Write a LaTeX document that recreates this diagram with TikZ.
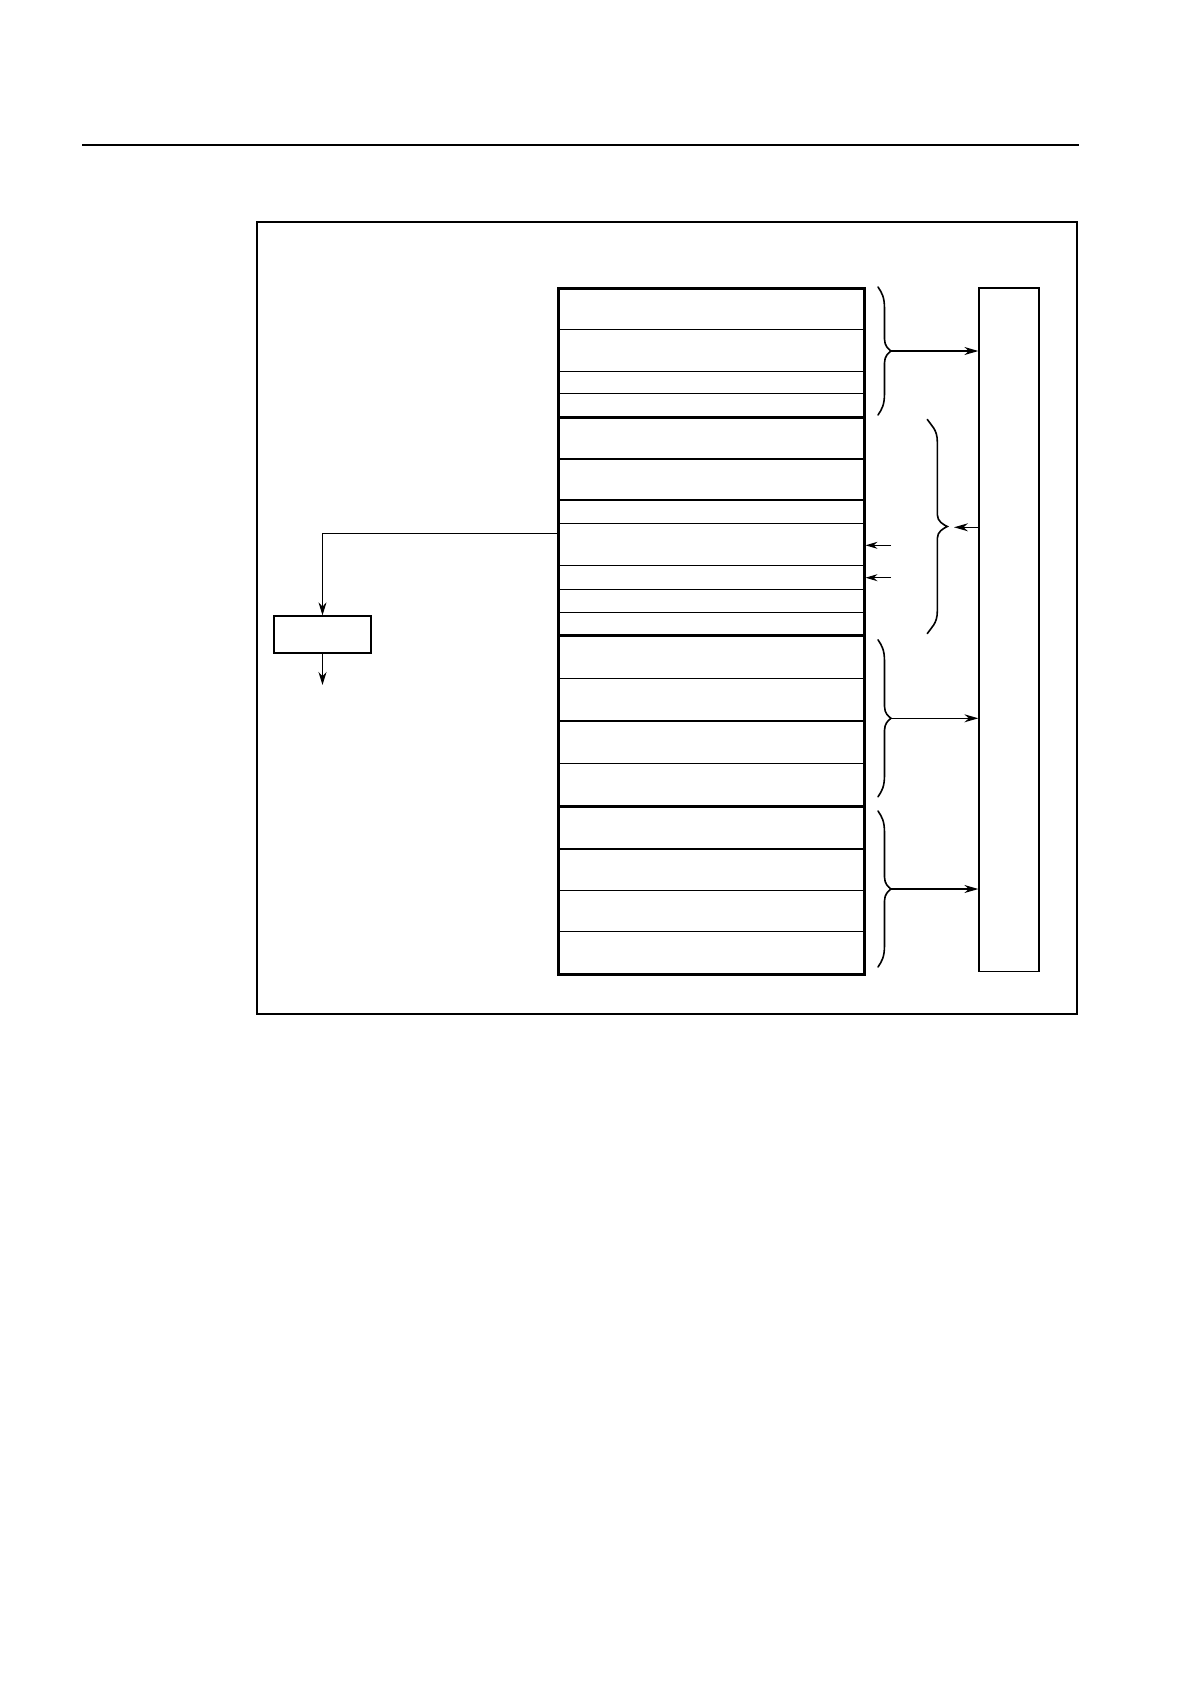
\documentclass[tikz,border=0pt]{standalone}
\usetikzlibrary{arrows.meta}
\tikzset{
  rowline/.style={line width=1.1pt},
  midline/.style={line width=1.6pt},
  heavyline/.style={line width=3pt},
  framestyle/.style={line width=1.8pt},
  boxstyle/.style={draw, line width=1.3pt, minimum width=0pt, minimum height=0pt, inner sep=0pt},
  bracestyle/.style={line width=1.6pt, line cap=round},
  arr/.style={line width=1.2pt, -{Stealth[length=14pt,width=8pt]}},
  connarr/.style={line width=1.2pt, -{Stealth[length=13pt,width=8pt]}},
  smallarr/.style={line width=1.1pt, -{Stealth[length=12pt,width=7pt]}},
  pics/rbrace/.style 2 args={code={
    \draw[bracestyle] (-#2,-#1) .. controls ({-#2+4},{-#1+6}) and ({-#2/2},{-#1+10}) .. ({-#2/2},{-#1+22})
      -- ({-#2/2},-12) .. controls ({-#2/2},-5) and ({-#2/5},-2) .. (0,0)
      .. controls ({-#2/5},2) and ({-#2/2},5) .. ({-#2/2},12)
      -- ({-#2/2},{#1-22}) .. controls ({-#2/2},{#1-10}) and ({-#2+4},{#1-6}) .. (-#2,#1);
  }}
}
\begin{document}
\begin{tikzpicture}[x=1pt,y=-1pt]
  \useasboundingbox (0,0) rectangle (1190,1684);
  % header rule
  \draw[framestyle] (82,145.3) -- (1079,145.3);
  % outer frame
  \draw[framestyle] (256.7,222) rectangle (1077,1014);
  % main block rows
  \foreach \yy in {329.3,371.3,393.3,500,523.3,565.3,589.3,612.3,678.3,721,763.3,890.3,931.3}
    \draw[rowline] (558,\yy) -- (864,\yy);
  \foreach \yy in {459,849}
    \draw[midline] (558,\yy) -- (864,\yy);
  \foreach \yy in {417.7,635.7,806}
    \draw[heavyline] (558,\yy) -- (864,\yy);
  \node[boxstyle, line width=3pt, minimum width=306pt, minimum height=686.5pt] (mem) at (711,631.25) {};
  % tall box on the right
  \node[boxstyle, minimum width=60pt, minimum height=683.5pt] (bus) at (1009,629.75) {};
  % small box on the left
  \node[boxstyle, minimum width=97pt, minimum height=37pt] (blk) at (322.5,634.5) {};
  % braces
  \pic at (891,351) {rbrace={64}{13}};
  \pic at (947.3,526.5) {rbrace={107}{20}};
  \pic at (891,718.3) {rbrace={78.5}{13}};
  \pic at (891,889) {rbrace={78}{13}};
  \coordinate (t1) at (891,351);
  \coordinate (t2) at (954,527.3);
  \coordinate (t3) at (891,718.3);
  \coordinate (t4) at (891,889);
  % brace arrows
  \draw[arr] (t1) -- (t1 -| bus.west);
  \draw[arr] (t2 -| bus.west) -- (t2);
  \draw[arr] (t3) -- (t3 -| bus.west);
  \draw[arr] (t4) -- (t4 -| bus.west);
  % small arrows into block
  \coordinate (s1) at (891,545.3);
  \coordinate (s2) at (891,577.7);
  \draw[smallarr] (s1) -- (s1 -| mem.east);
  \draw[smallarr] (s2) -- (s2 -| mem.east);
  % connector from block to small box
  \coordinate (c0) at (558,533.3);
  \draw[connarr] (c0) -- (c0 -| blk.north) -- (blk.north);
  \coordinate (outend) at (322.5,685);
  \draw[connarr] (blk.south) -- (outend);
\end{tikzpicture}
\end{document}
